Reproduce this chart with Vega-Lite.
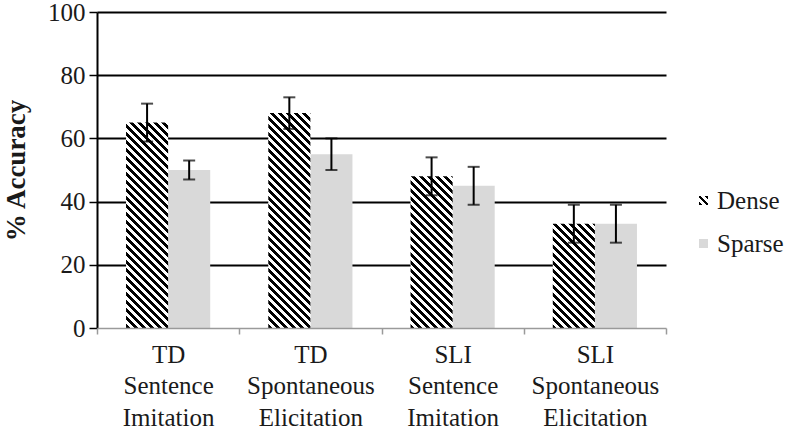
{
  "$schema": "https://vega.github.io/schema/vega-lite/v6.json",
  "autosize": "none",
  "width": 569,
  "height": 316,
  "padding": {"left": 97, "top": 12, "right": 134, "bottom": 111},
  "background": "white",
  "config": {
    "view": {"stroke": null},
    "font": "Liberation Serif"
  },
  "params": [
    {"name": "hatch", "value": [
      {"offset":0,"color":"#000"},{"offset":0.0125,"color":"#000"},{"offset":0.0125,"color":"#fff"},{"offset":0.025,"color":"#fff"},
      {"offset":0.025,"color":"#000"},{"offset":0.0375,"color":"#000"},{"offset":0.0375,"color":"#fff"},{"offset":0.05,"color":"#fff"},
      {"offset":0.05,"color":"#000"},{"offset":0.0625,"color":"#000"},{"offset":0.0625,"color":"#fff"},{"offset":0.075,"color":"#fff"},
      {"offset":0.075,"color":"#000"},{"offset":0.0875,"color":"#000"},{"offset":0.0875,"color":"#fff"},{"offset":0.1,"color":"#fff"},
      {"offset":0.1,"color":"#000"},{"offset":0.1125,"color":"#000"},{"offset":0.1125,"color":"#fff"},{"offset":0.125,"color":"#fff"},
      {"offset":0.125,"color":"#000"},{"offset":0.1375,"color":"#000"},{"offset":0.1375,"color":"#fff"},{"offset":0.15,"color":"#fff"},
      {"offset":0.15,"color":"#000"},{"offset":0.1625,"color":"#000"},{"offset":0.1625,"color":"#fff"},{"offset":0.175,"color":"#fff"},
      {"offset":0.175,"color":"#000"},{"offset":0.1875,"color":"#000"},{"offset":0.1875,"color":"#fff"},{"offset":0.2,"color":"#fff"},
      {"offset":0.2,"color":"#000"},{"offset":0.2125,"color":"#000"},{"offset":0.2125,"color":"#fff"},{"offset":0.225,"color":"#fff"},
      {"offset":0.225,"color":"#000"},{"offset":0.2375,"color":"#000"},{"offset":0.2375,"color":"#fff"},{"offset":0.25,"color":"#fff"},
      {"offset":0.25,"color":"#000"},{"offset":0.2625,"color":"#000"},{"offset":0.2625,"color":"#fff"},{"offset":0.275,"color":"#fff"},
      {"offset":0.275,"color":"#000"},{"offset":0.2875,"color":"#000"},{"offset":0.2875,"color":"#fff"},{"offset":0.3,"color":"#fff"},
      {"offset":0.3,"color":"#000"},{"offset":0.3125,"color":"#000"},{"offset":0.3125,"color":"#fff"},{"offset":0.325,"color":"#fff"},
      {"offset":0.325,"color":"#000"},{"offset":0.3375,"color":"#000"},{"offset":0.3375,"color":"#fff"},{"offset":0.35,"color":"#fff"},
      {"offset":0.35,"color":"#000"},{"offset":0.3625,"color":"#000"},{"offset":0.3625,"color":"#fff"},{"offset":0.375,"color":"#fff"},
      {"offset":0.375,"color":"#000"},{"offset":0.3875,"color":"#000"},{"offset":0.3875,"color":"#fff"},{"offset":0.4,"color":"#fff"},
      {"offset":0.4,"color":"#000"},{"offset":0.4125,"color":"#000"},{"offset":0.4125,"color":"#fff"},{"offset":0.425,"color":"#fff"},
      {"offset":0.425,"color":"#000"},{"offset":0.4375,"color":"#000"},{"offset":0.4375,"color":"#fff"},{"offset":0.45,"color":"#fff"},
      {"offset":0.45,"color":"#000"},{"offset":0.4625,"color":"#000"},{"offset":0.4625,"color":"#fff"},{"offset":0.475,"color":"#fff"},
      {"offset":0.475,"color":"#000"},{"offset":0.4875,"color":"#000"},{"offset":0.4875,"color":"#fff"},{"offset":0.5,"color":"#fff"},
      {"offset":0.5,"color":"#000"},{"offset":0.5125,"color":"#000"},{"offset":0.5125,"color":"#fff"},{"offset":0.525,"color":"#fff"},
      {"offset":0.525,"color":"#000"},{"offset":0.5375,"color":"#000"},{"offset":0.5375,"color":"#fff"},{"offset":0.55,"color":"#fff"},
      {"offset":0.55,"color":"#000"},{"offset":0.5625,"color":"#000"},{"offset":0.5625,"color":"#fff"},{"offset":0.575,"color":"#fff"},
      {"offset":0.575,"color":"#000"},{"offset":0.5875,"color":"#000"},{"offset":0.5875,"color":"#fff"},{"offset":0.6,"color":"#fff"},
      {"offset":0.6,"color":"#000"},{"offset":0.6125,"color":"#000"},{"offset":0.6125,"color":"#fff"},{"offset":0.625,"color":"#fff"},
      {"offset":0.625,"color":"#000"},{"offset":0.6375,"color":"#000"},{"offset":0.6375,"color":"#fff"},{"offset":0.65,"color":"#fff"},
      {"offset":0.65,"color":"#000"},{"offset":0.6625,"color":"#000"},{"offset":0.6625,"color":"#fff"},{"offset":0.675,"color":"#fff"},
      {"offset":0.675,"color":"#000"},{"offset":0.6875,"color":"#000"},{"offset":0.6875,"color":"#fff"},{"offset":0.7,"color":"#fff"},
      {"offset":0.7,"color":"#000"},{"offset":0.7125,"color":"#000"},{"offset":0.7125,"color":"#fff"},{"offset":0.725,"color":"#fff"},
      {"offset":0.725,"color":"#000"},{"offset":0.7375,"color":"#000"},{"offset":0.7375,"color":"#fff"},{"offset":0.75,"color":"#fff"},
      {"offset":0.75,"color":"#000"},{"offset":0.7625,"color":"#000"},{"offset":0.7625,"color":"#fff"},{"offset":0.775,"color":"#fff"},
      {"offset":0.775,"color":"#000"},{"offset":0.7875,"color":"#000"},{"offset":0.7875,"color":"#fff"},{"offset":0.8,"color":"#fff"},
      {"offset":0.8,"color":"#000"},{"offset":0.8125,"color":"#000"},{"offset":0.8125,"color":"#fff"},{"offset":0.825,"color":"#fff"},
      {"offset":0.825,"color":"#000"},{"offset":0.8375,"color":"#000"},{"offset":0.8375,"color":"#fff"},{"offset":0.85,"color":"#fff"}
    ]}
  ],
  "data": {"values": [
    {"Condition": "TD Sentence Imitation", "Type": "Dense", "Accuracy": 65, "Lo": 59, "Hi": 71},
    {"Condition": "TD Sentence Imitation", "Type": "Sparse", "Accuracy": 50, "Lo": 47, "Hi": 53},
    {"Condition": "TD Spontaneous Elicitation", "Type": "Dense", "Accuracy": 68, "Lo": 63, "Hi": 73},
    {"Condition": "TD Spontaneous Elicitation", "Type": "Sparse", "Accuracy": 55, "Lo": 50, "Hi": 60},
    {"Condition": "SLI Sentence Imitation", "Type": "Dense", "Accuracy": 48, "Lo": 42, "Hi": 54},
    {"Condition": "SLI Sentence Imitation", "Type": "Sparse", "Accuracy": 45, "Lo": 39, "Hi": 51},
    {"Condition": "SLI Spontaneous Elicitation", "Type": "Dense", "Accuracy": 33, "Lo": 27, "Hi": 39},
    {"Condition": "SLI Spontaneous Elicitation", "Type": "Sparse", "Accuracy": 33, "Lo": 27, "Hi": 39}
  ]},
  "encoding": {
    "x": {
      "field": "Condition", "type": "nominal",
      "sort": ["TD Sentence Imitation", "TD Spontaneous Elicitation", "SLI Sentence Imitation", "SLI Spontaneous Elicitation"],
      "scale": {"paddingInner": 0, "paddingOuter": 0},
      "axis": {
        "title": null, "labelAngle": 0, "labelExpr": "split(datum.label, ' ')",
        "labelFont": "Liberation Serif", "labelFontSize": 25, "labelLineHeight": 31.5, "labelColor": "#1a1a1a",
        "labelPadding": 8, "labelBaseline": "top",
        "tickBand": "extent", "tickColor": "#9a9a9a", "tickSize": 6, "tickWidth": 1.5,
        "domainColor": "#9a9a9a", "domainWidth": 1.5, "grid": false, "zindex": 1
      }
    },
    "xOffset": {"field": "Type", "type": "nominal", "scale": {"domain": ["Dense", "Sparse"], "paddingInner": 0, "paddingOuter": 0.69}},
    "y": {
      "field": "Accuracy", "type": "quantitative",
      "scale": {"domain": [0, 100], "nice": false},
      "axis": {
        "title": "% Accuracy", "titleFont": "Liberation Serif", "titleFontSize": 27, "titleFontWeight": "bold", "titleColor": "#1a1a1a", "titlePadding": 17,
        "values": [0, 20, 40, 60, 80, 100],
        "labelFont": "Liberation Serif", "labelFontSize": 25, "labelColor": "#1a1a1a", "labelPadding": 4,
        "tickColor": "#000", "tickSize": 8, "tickWidth": 1.5,
        "domainColor": "#000", "domainWidth": 2,
        "grid": true, "gridWidth": 2,
        "gridColor": {"condition": {"test": "datum.value === 0", "value": "transparent"}, "value": "#000"}
      }
    }
  },
  "layer": [
    {
      "transform": [{"filter": "datum.Type === 'Sparse'"}],
      "mark": {"type": "bar"},
      "encoding": {
        "color": {
          "field": "Type", "type": "nominal",
          "scale": {"domain": ["Dense", "Sparse"], "range": [{"expr": "{gradient: 'linear', x1: 0, y1: 1, x2: 16, y2: -15, stops: hatch}"}, "#d9d9d9"]},
          "legend": {
            "title": null, "orient": "none", "legendX": 594, "legendY": 176, "padding": 0,
            "symbolType": "square", "symbolSize": 81, "symbolStrokeWidth": 0,
            "labelFont": "Liberation Serif", "labelFontSize": 25, "labelColor": "#1a1a1a", "labelOffset": 1,
            "rowPadding": 17
          }
        }
      }
    },
    {
      "transform": [{"filter": "datum.Type === 'Dense' && datum.Condition === 'TD Sentence Imitation'"}],
      "mark": {"type": "bar", "fill": {"expr": "{gradient: 'linear', x1: 0, y1: 1, x2: 0.30638, y2: -0.49516, stops: hatch}"}}
    },
    {
      "transform": [{"filter": "datum.Type === 'Dense' && datum.Condition === 'TD Spontaneous Elicitation'"}],
      "mark": {"type": "bar", "fill": {"expr": "{gradient: 'linear', x1: 0, y1: 1, x2: 0.28092, y2: -0.43418, stops: hatch}"}}
    },
    {
      "transform": [{"filter": "datum.Type === 'Dense' && datum.Condition === 'SLI Sentence Imitation'"}],
      "mark": {"type": "bar", "fill": {"expr": "{gradient: 'linear', x1: 0, y1: 1, x2: 0.54357, y2: -0.95887, stops: hatch}"}}
    },
    {
      "transform": [{"filter": "datum.Type === 'Dense' && datum.Condition === 'SLI Spontaneous Elicitation'"}],
      "mark": {"type": "bar", "fill": {"expr": "{gradient: 'linear', x1: 0, y1: 1, x2: 1.06509, y2: -1.63877, stops: hatch}"}}
    },
    {
      "mark": {"type": "rule", "color": "#000", "strokeWidth": 2},
      "encoding": {"y": {"field": "Lo", "type": "quantitative"}, "y2": {"field": "Hi"}}
    },
    {
      "mark": {"type": "tick", "color": "#000", "size": 12, "thickness": 2},
      "encoding": {"y": {"field": "Lo", "type": "quantitative"}}
    },
    {
      "mark": {"type": "tick", "color": "#000", "size": 12, "thickness": 2},
      "encoding": {"y": {"field": "Hi", "type": "quantitative"}}
    }
  ]
}
